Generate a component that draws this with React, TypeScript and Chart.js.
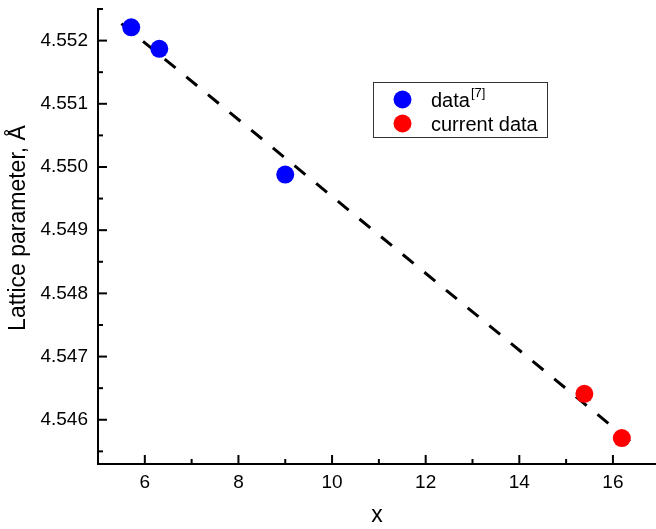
import React, { useEffect, useRef } from "react";
import { Chart, registerables } from "chart.js";

Chart.register(...registerables);

// Data
const refX = [5.71, 6.31, 9.0];
const refY = [4.55221, 4.55187, 4.54988];
const curX = [15.39, 16.19];
const curY = [4.54641, 4.54571];
const fitX = [5.5, 16.5];
const fitY = [4.55227, 4.54558];

const xMajorTicks = [6, 8, 10, 12, 14, 16];
const xMinorTicks = [7, 9, 11, 13, 15];
const yMajorTicks = [4.546, 4.547, 4.548, 4.549, 4.55, 4.551, 4.552];
const yMinorTicks = [4.5455, 4.5465, 4.5475, 4.5485, 4.5495, 4.5505, 4.5515, 4.5525];

const legendLabels = ["data", "current data"];
const legendSup = "[7]";
const xTitle = "x";
const yTitle = "Lattice parameter, Å";

const FONT = "'Liberation Sans', Arial, sans-serif";

const ticksPlugin = {
  id: "insideTicks",
  afterDraw(chart: any) {
    const ctx = chart.ctx;
    const { left, bottom } = chart.chartArea;
    const xs = chart.scales.x;
    const ys = chart.scales.y;
    ctx.save();
    ctx.strokeStyle = "#000";
    ctx.lineWidth = 2;
    const drawY = (vals: number[], len: number) => {
      vals.forEach((v) => {
        const p = ys.getPixelForValue(v);
        ctx.beginPath();
        ctx.moveTo(left, p);
        ctx.lineTo(left + len, p);
        ctx.stroke();
      });
    };
    const drawX = (vals: number[], len: number) => {
      vals.forEach((v) => {
        const p = xs.getPixelForValue(v);
        ctx.beginPath();
        ctx.moveTo(p, bottom);
        ctx.lineTo(p, bottom - len);
        ctx.stroke();
      });
    };
    drawY(yMajorTicks, 9);
    drawY(yMinorTicks, 5);
    drawX(xMajorTicks, 9);
    drawX(xMinorTicks, 5);

    // Y title
    ctx.save();
    ctx.translate(19, 228);
    ctx.rotate(-Math.PI / 2);
    ctx.fillStyle = "#000";
    ctx.font = "23px " + FONT;
    ctx.textAlign = "center";
    ctx.textBaseline = "middle";
    ctx.fillText(yTitle, 0, 0);
    ctx.restore();

    // Legend
    const bx = 373, by = 82, bw = 174, bh = 55;
    ctx.fillStyle = "#fff";
    ctx.fillRect(bx, by, bw, bh);
    ctx.strokeStyle = "#333";
    ctx.lineWidth = 1;
    ctx.strokeRect(bx + 0.5, by + 0.5, bw, bh);
    const colors = ["#0000ff", "#ff0000"];
    const rowsY = [99.5, 123.5];
    const baselines = [106.7, 131];
    colors.forEach((c, i) => {
      ctx.fillStyle = c;
      ctx.beginPath();
      ctx.arc(402.5, rowsY[i], 9, 0, Math.PI * 2);
      ctx.fill();
      ctx.fillStyle = "#000";
      ctx.font = "20px " + FONT;
      ctx.textAlign = "left";
      ctx.textBaseline = "alphabetic";
      ctx.fillText(legendLabels[i], 431, baselines[i]);
      if (i === 0) {
        const w = ctx.measureText(legendLabels[i]).width;
        ctx.font = "13px " + FONT;
        ctx.fillText(legendSup, 431 + w + 1, 97);
      }
    });
    ctx.restore();
  },
};

const zeroPad = (s: any) => {
  s.paddingTop = 0;
  s.paddingBottom = 0;
  s.paddingLeft = 0;
  s.paddingRight = 0;
};

export default function App() {
  const ref = useRef<HTMLCanvasElement>(null);
  useEffect(() => {
    if (!ref.current) return;
    Chart.defaults.font.family = FONT;
    const chart = new Chart(ref.current, {
      type: "scatter",
      data: {
        datasets: [
          {
            label: "data",
            data: refX.map((x, i) => ({ x, y: refY[i] })),
            backgroundColor: "#0000ff",
            borderWidth: 0,
            pointRadius: 9,
          },
          {
            label: "current data",
            data: curX.map((x, i) => ({ x, y: curY[i] })),
            backgroundColor: "#ff0000",
            borderWidth: 0,
            pointRadius: 9,
          },
          {
            label: "fit",
            data: fitX.map((x, i) => ({ x, y: fitY[i] })),
            showLine: true,
            borderColor: "#000",
            borderWidth: 3,
            borderDash: [14, 14],
            pointRadius: 0,
          } as any,
        ],
      },
      options: {
        animation: false,
        responsive: false,
        maintainAspectRatio: false,
        layout: { autoPadding: false, padding: { top: 9, right: 0, left: 0, bottom: 0 } },
        plugins: {
          legend: { display: false },
          tooltip: { enabled: false },
        },
        scales: {
          x: {
            type: "linear",
            min: 5,
            max: 16.92,
            afterBuildTicks: (s: any) => {
              s.ticks = xMajorTicks.map((v) => ({ value: v }));
            },
            afterFit: (s: any) => {
              s.height = 65;
              zeroPad(s);
            },
            grid: { drawOnChartArea: false, drawTicks: false },
            border: { display: true, color: "#000", width: 2 },
            ticks: {
              color: "#000",
              font: { size: 19 },
              padding: 7,
              autoSkip: false,
              maxRotation: 0,
              callback: (v: any) => String(v),
            },
            title: {
              display: true,
              text: xTitle,
              color: "#000",
              font: { size: 23 },
              padding: { top: 0, bottom: 0 },
            },
          },
          y: {
            type: "linear",
            min: 4.5453,
            max: 4.5525,
            afterBuildTicks: (s: any) => {
              s.ticks = yMajorTicks.map((v) => ({ value: v }));
            },
            afterFit: (s: any) => {
              s.width = 98;
              zeroPad(s);
            },
            grid: { drawOnChartArea: false, drawTicks: false },
            border: { display: true, color: "#000", width: 2 },
            ticks: {
              color: "#000",
              font: { size: 19 },
              padding: 10,
              autoSkip: false,
              callback: (v: any) => Number(v).toFixed(3),
            },
            title: { display: false },
          },
        },
      },
      plugins: [ticksPlugin],
    });
    return () => chart.destroy();
  }, []);
  return (
    <div style={{ position: "fixed", left: 0, top: 0, width: 656, height: 529, background: "#fff" }}>
      <canvas ref={ref} width={656} height={529} style={{ width: 656, height: 529 }} />
    </div>
  );
}
